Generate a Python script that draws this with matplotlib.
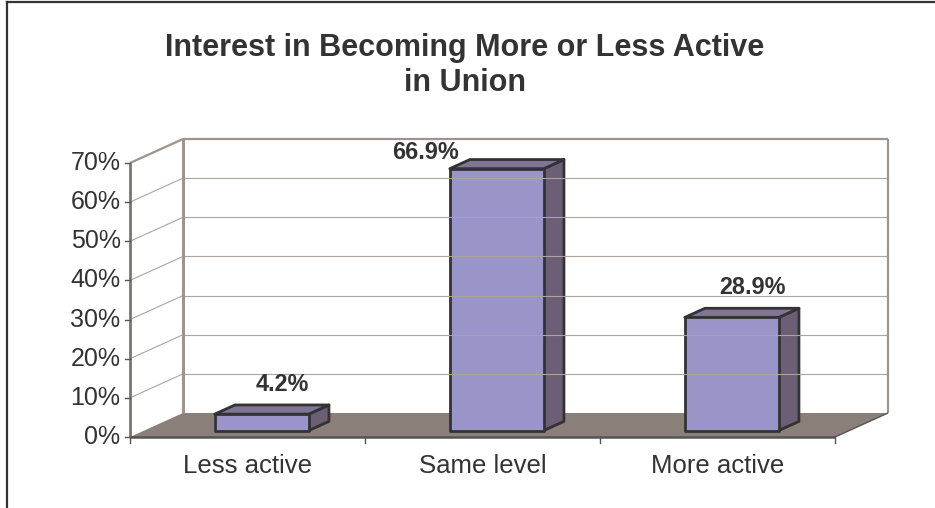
import matplotlib.pyplot as plt
from matplotlib.lines import Line2D

plt.rcParams['font.family'] = ['Liberation Sans', 'DejaVu Sans']

# chart data
categories = ["Less active", "Same level", "More active"]
values = [4.2, 66.9, 28.9]
y_ticks = [0, 10, 20, 30, 40, 50, 60, 70]
title = "Interest in Becoming More or Less Active\nin Union"

# 3-D look: depth offset of the back wall, in data units
DX, DY = 0.2255, 6.13
BAR_D0, BAR_D1 = 0.27, 0.65   # bar front / back depth (0..1)
BAR_W = 0.4
YMAX = 70

FRONT = '#9a95c9'
TOP = '#807497'
SIDE = '#6b5e75'
EDGE = '#333333'
WALL = '#9e938e'
GRID = '#aea49f'
FLOOR = '#8b7f7a'
TEXT = '#333333'


def p(x, y, d):
    # project (category x, value y, depth d) to the front plane
    return x + d * DX, y + d * DY


def poly(ax, pts, **kw):
    xs, ys = zip(*[p(*q) for q in pts])
    ax.fill(xs, ys, clip_on=False, **kw)


def line(ax, a, b, **kw):
    (x0, y0), (x1, y1) = p(*a), p(*b)
    ax.plot([x0, x1], [y0, y1], clip_on=False, solid_capstyle='butt', **kw)


fig = plt.figure(figsize=(9.35, 5.08), dpi=100)
ax = fig.add_axes([130 / 935, 71 / 508, 705 / 935, 274 / 508])
ax.set_xlim(0, 3)
ax.set_ylim(0, YMAX)
ax.axis('off')

n = len(categories)

# walls and floor
poly(ax, [(0, 0, 0), (0, YMAX, 0), (0, YMAX, 1), (0, 0, 1)], facecolor='white', edgecolor='none')
poly(ax, [(0, 0, 1), (n, 0, 1), (n, YMAX, 1), (0, YMAX, 1)], facecolor='white', edgecolor='none')
poly(ax, [(0, 0, 0), (n, 0, 0), (n, 0, 1), (0, 0, 1)], facecolor=FLOOR, edgecolor='none')

for v in y_ticks[1:-1]:
    line(ax, (0, v, 0), (0, v, 1), color=GRID, lw=0.8)
    line(ax, (0, v, 1), (n, v, 1), color=GRID, lw=0.8)

line(ax, (0, 0, 1), (0, YMAX, 1), color=WALL, lw=2.2)
line(ax, (0, YMAX, 1), (n, YMAX, 1), color=WALL, lw=1.6)
line(ax, (n, YMAX, 1), (n, 0, 1), color=WALL, lw=1.6)
line(ax, (0, YMAX, 0), (0, YMAX, 1), color=WALL, lw=1.6)
line(ax, (n, 0, 0), (n, 0, 1), color='#555555', lw=1.0)

# front axes
line(ax, (0, 0, 0), (0, YMAX, 0), color='#7d7470', lw=2.0)
line(ax, (0, 0, 0), (n, 0, 0), color='#555555', lw=1.8)
for v in y_ticks:
    ax.plot([-0.022, 0], [v, v], color='#555555', lw=1.0, clip_on=False)
    ax.text(-0.04, v, f"{v}%", ha='right', va='center', fontsize=18, color=TEXT)
for i in range(n + 1):
    ax.plot([i, i], [0, -1.5], color='#555555', lw=1.0, clip_on=False)
for i, c in enumerate(categories):
    ax.text(i + 0.5, -4.4, c, ha='center', va='top', fontsize=18.5, color=TEXT)

# bars
for i, v in enumerate(values):
    x0 = i + 0.5 - BAR_W / 2
    x1 = i + 0.5 + BAR_W / 2
    kw = dict(edgecolor=EDGE, lw=2.0, joinstyle='round')
    poly(ax, [(x1, 0, BAR_D0), (x1, 0, BAR_D1), (x1, v, BAR_D1), (x1, v, BAR_D0)], facecolor=SIDE, **kw)
    poly(ax, [(x0, v, BAR_D0), (x1, v, BAR_D0), (x1, v, BAR_D1), (x0, v, BAR_D1)], facecolor=TOP, **kw)
    poly(ax, [(x0, 0, BAR_D0), (x1, 0, BAR_D0), (x1, v, BAR_D0), (x0, v, BAR_D0)], facecolor=FRONT, **kw)

    # value label above the bar, pushed left when it would leave the plot
    ly = v + 9.3
    if ly > YMAX + 2.6:
        lx, ly = p(x0 + 0.04, YMAX + 2.6 - BAR_D0 * DY, BAR_D0)
        ax.text(lx, ly, f"{v}%", ha='right', va='center', fontsize=16.8,
                fontweight='bold', color=TEXT)
    else:
        ax.text(i + 0.5 + 0.15, ly, f"{v}%", ha='center', va='center', fontsize=16.8,
                fontweight='bold', color=TEXT)

fig.text(465 / 935, 1 - 65.5 / 508, title, ha='center', va='center', fontsize=22,
         fontweight='bold', color=TEXT, linespacing=1.2)

# frame around the picture (top and left edges)
fig.add_artist(Line2D([7 / 935, 7 / 935], [0, 1 - 2 / 508], transform=fig.transFigure, color='#333333', lw=1.6))
fig.add_artist(Line2D([7 / 935, 1], [1 - 2 / 508, 1 - 2 / 508], transform=fig.transFigure, color='#333333', lw=1.6))

fig.savefig('out.png', dpi=100)
